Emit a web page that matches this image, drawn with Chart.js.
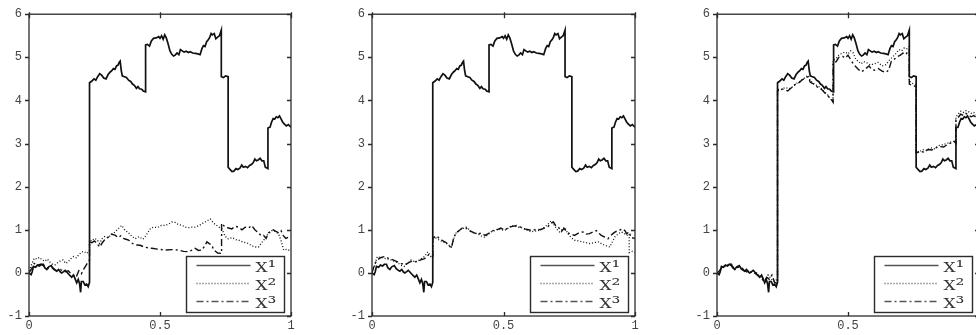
<!DOCTYPE html>
<html>
<head>
<meta charset="utf-8">
<script src="https://cdn.jsdelivr.net/npm/chart.js@4/dist/chart.umd.min.js"></script>
<style>
  html, body { margin: 0; padding: 0; background: #fff; overflow: hidden; width: 976px; height: 335px; position: relative; }
  .panel { position: absolute; top: 0; width: 300px; height: 335px; }
  canvas { display: block; }
</style>
</head>
<body>
<div class="panel" style="left:0px"><canvas id="c1" width="300" height="335"></canvas></div>
<div class="panel" style="left:343px"><canvas id="c2" width="300" height="335"></canvas></div>
<div class="panel" style="left:688px"><canvas id="c3" width="300" height="335"></canvas></div>
<script>
// Series names and axis ticks
const seriesLabels = ['X\u00b9', 'X\u00b2', 'X\u00b3'];
const xTicks = [0, 0.5, 1];
const yTicks = [-1, 0, 1, 2, 3, 4, 5, 6];

// X¹ path [t, value] – the same in all three panels (repeated t = jump)
const pathX1 = [
  [0,0],[0.008,-0.04],[0.012,0.02],[0.017,0.15],[0.025,0.13],[0.032,0.18],[0.04,0.16],[0.047,0.2],
  [0.055,0.2],[0.06,0.12],[0.068,0.08],[0.075,0.14],[0.085,0.17],[0.092,0.1],[0.1,0.06],[0.106,0.04],
  [0.113,0.08],[0.12,0.02],[0.125,0.0],[0.132,0.03],[0.138,0.06],[0.144,0.02],[0.15,-0.02],[0.156,-0.06],
  [0.163,-0.1],[0.17,-0.05],[0.176,-0.14],[0.182,-0.23],[0.188,-0.15],[0.193,-0.25],[0.197,-0.45],[0.2,-0.2],
  [0.207,-0.2],[0.213,-0.28],[0.22,-0.26],[0.226,-0.32],[0.231,-0.22],
  [0.231,4.41],[0.24,4.45],[0.248,4.5],[0.255,4.47],[0.262,4.55],[0.27,4.62],[0.278,4.58],[0.285,4.52],
  [0.294,4.5],[0.302,4.6],[0.31,4.66],[0.316,4.69],[0.322,4.74],[0.328,4.72],[0.334,4.8],[0.34,4.82],
  [0.344,4.88],[0.348,4.91],[0.352,4.7],[0.356,4.57],[0.364,4.55],[0.372,4.53],[0.38,4.47],[0.388,4.44],
  [0.395,4.38],[0.402,4.35],[0.41,4.28],[0.416,4.32],[0.422,4.27],[0.43,4.26],[0.436,4.22],[0.445,4.2],
  [0.445,5.29],[0.452,5.3],[0.46,5.26],[0.467,5.38],[0.475,5.44],[0.485,5.45],[0.495,5.48],[0.5,5.44],
  [0.506,5.5],[0.512,5.42],[0.518,5.52],[0.524,5.45],[0.53,5.33],[0.538,5.15],[0.545,5.07],[0.552,5.03],
  [0.558,5.05],[0.565,5.1],[0.572,5.06],[0.578,5.18],[0.585,5.15],[0.592,5.12],[0.6,5.14],[0.608,5.11],
  [0.615,5.13],[0.625,5.1],[0.635,5.09],[0.645,5.08],[0.653,5.06],[0.66,5.2],[0.666,5.27],[0.672,5.25],
  [0.678,5.36],[0.685,5.41],[0.69,5.47],[0.695,5.55],[0.7,5.52],[0.707,5.55],[0.713,5.43],[0.72,5.47],
  [0.727,5.5],[0.734,5.63],
  [0.734,4.55],[0.742,4.53],[0.75,4.57],[0.76,4.55],
  [0.76,2.45],[0.767,2.4],[0.775,2.35],[0.782,2.36],[0.79,2.42],[0.797,2.4],[0.805,2.43],[0.812,2.5],
  [0.818,2.45],[0.826,2.47],[0.834,2.44],[0.842,2.49],[0.85,2.52],[0.856,2.56],[0.862,2.64],[0.868,2.6],
  [0.875,2.62],[0.882,2.66],[0.889,2.6],[0.896,2.6],[0.902,2.45],[0.912,2.42],
  [0.912,3.36],[0.92,3.38],[0.926,3.5],[0.932,3.58],[0.938,3.57],[0.944,3.62],[0.95,3.6],[0.956,3.64],
  [0.962,3.57],[0.968,3.5],[0.975,3.45],[0.982,3.41],[0.99,3.44],[1.0,3.38]
];

// Panel 1: X² and X³
const p1X2 = [
  [0,0.05],[0.01,0.2],[0.02,0.34],[0.03,0.32],[0.04,0.36],[0.05,0.3],[0.061,0.27],[0.07,0.32],[0.08,0.25],
  [0.09,0.2],[0.1,0.19],[0.11,0.24],[0.12,0.28],[0.13,0.3],[0.14,0.22],[0.15,0.26],[0.16,0.33],[0.17,0.38],
  [0.18,0.35],[0.19,0.42],[0.2,0.48],[0.21,0.5],[0.22,0.45],[0.231,0.52],
  [0.231,0.76],[0.24,0.74],[0.25,0.8],[0.26,0.77],[0.27,0.68],[0.278,0.79],[0.29,0.85],[0.3,0.82],
  [0.316,0.88],[0.33,0.96],[0.345,1.05],[0.354,1.1],[0.365,1.0],[0.38,0.93],[0.392,0.85],[0.405,0.79],
  [0.42,0.84],[0.435,0.78],[0.445,0.85],[0.455,0.95],[0.465,1.04],[0.475,1.06],[0.49,1.05],[0.505,1.1],
  [0.52,1.1],[0.535,1.14],[0.545,1.18],[0.558,1.17],[0.57,1.12],[0.585,1.1],[0.596,1.06],[0.61,1.05],
  [0.622,1.06],[0.634,1.06],[0.65,1.1],[0.665,1.16],[0.678,1.2],[0.692,1.25],[0.705,1.15],[0.717,1.1],
  [0.728,1.05],[0.736,1.02],[0.745,0.9],[0.755,0.8],[0.762,0.79],[0.775,0.82],[0.79,0.77],[0.8,0.76],
  [0.815,0.72],[0.828,0.7],[0.838,0.68],[0.85,0.63],[0.865,0.6],[0.876,0.6],[0.888,0.7],[0.9,0.79],
  [0.912,0.9],[0.927,0.98],[0.94,0.96],[0.953,0.9],[0.962,0.75],[0.972,0.53],[0.985,0.55],[1.0,0.5]
];
const p1X3 = [
  [0,0],[0.01,0.1],[0.02,0.22],[0.03,0.18],[0.045,0.2],[0.06,0.15],[0.075,0.1],[0.09,0.12],[0.105,0.05],
  [0.12,0.08],[0.135,0.02],[0.15,0.05],[0.165,-0.05],[0.18,-0.1],[0.19,0.05],[0.2,-0.02],[0.21,0.1],
  [0.22,0.2],[0.231,0.3],
  [0.231,0.72],[0.24,0.7],[0.25,0.74],[0.26,0.68],[0.27,0.6],[0.28,0.7],[0.29,0.78],[0.303,0.83],
  [0.315,0.9],[0.33,0.87],[0.34,0.82],[0.35,0.86],[0.36,0.8],[0.37,0.78],[0.38,0.76],[0.39,0.7],
  [0.405,0.65],[0.424,0.64],[0.44,0.6],[0.455,0.58],[0.469,0.57],[0.49,0.55],[0.52,0.53],[0.545,0.54],
  [0.571,0.53],[0.59,0.5],[0.609,0.49],[0.62,0.52],[0.634,0.57],[0.647,0.52],[0.66,0.53],[0.67,0.62],
  [0.679,0.72],[0.688,0.68],[0.698,0.64],[0.705,0.53],[0.712,0.5],[0.72,0.46],[0.735,0.45],
  [0.735,1.15],[0.749,1.06],[0.762,1.04],[0.774,1.02],[0.787,1.08],[0.8,1.06],[0.813,1.0],[0.825,1.06],
  [0.838,1.04],[0.85,1.1],[0.862,1.0],[0.876,0.93],[0.886,0.86],[0.895,0.87],[0.905,0.8],[0.914,0.93],
  [0.924,0.96],[0.933,1.0],[0.943,0.96],[0.953,0.93],[0.962,0.98],[0.97,0.87],[0.98,0.8],[0.99,0.83],[1.0,0.85]
];

// Panel 2: X² and X³
const p2X2 = [
  [0,0.02],[0.009,0.15],[0.02,0.38],[0.03,0.36],[0.047,0.34],[0.06,0.32],[0.073,0.3],[0.085,0.27],
  [0.098,0.23],[0.11,0.18],[0.123,0.15],[0.135,0.22],[0.149,0.3],[0.16,0.26],[0.174,0.27],[0.187,0.33],
  [0.2,0.38],[0.212,0.49],[0.224,0.38],[0.231,0.42],
  [0.231,0.83],[0.237,0.83],[0.256,0.76],[0.27,0.72],[0.283,0.68],[0.302,0.6],[0.31,0.75],[0.315,0.91],
  [0.328,0.95],[0.34,1.02],[0.358,1.06],[0.37,1.0],[0.377,0.95],[0.39,0.92],[0.402,0.91],[0.415,0.86],
  [0.428,0.83],[0.44,0.88],[0.453,0.95],[0.466,0.98],[0.479,1.02],[0.492,1.0],[0.504,0.98],[0.518,1.04],
  [0.531,1.1],[0.544,1.08],[0.556,1.06],[0.568,1.05],[0.58,1.02],[0.594,0.98],[0.606,0.95],[0.618,0.97],
  [0.631,0.98],[0.644,1.02],[0.656,1.06],[0.668,1.12],[0.681,1.21],[0.694,1.1],[0.705,1.0],[0.713,0.95],
  [0.722,1.0],[0.732,1.06],[0.745,0.91],[0.757,0.82],[0.77,0.76],[0.785,0.74],[0.8,0.72],[0.815,0.7],
  [0.827,0.68],[0.843,0.7],[0.86,0.72],[0.872,0.68],[0.885,0.64],[0.895,0.62],[0.904,0.6],[0.914,0.72],
  [0.923,0.83],[0.935,0.9],[0.948,0.95],[0.958,0.92],[0.968,0.87],[0.978,0.9],
  [0.978,0.47],[0.99,0.5],[1.0,0.48]
];
const p2X3 = [
  [0,0.0],[0.01,0.2],[0.02,0.3],[0.035,0.36],[0.05,0.38],[0.065,0.33],[0.08,0.3],[0.095,0.26],[0.11,0.22],
  [0.125,0.19],[0.14,0.24],[0.155,0.28],[0.17,0.25],[0.185,0.3],[0.2,0.33],[0.215,0.42],[0.231,0.38],
  [0.231,0.8],[0.245,0.86],[0.256,0.8],[0.27,0.74],[0.283,0.7],[0.295,0.62],[0.302,0.58],[0.31,0.8],
  [0.32,0.93],[0.335,1.0],[0.345,1.05],[0.358,1.04],[0.37,0.98],[0.385,0.94],[0.4,0.9],[0.415,0.92],
  [0.43,0.87],[0.445,0.92],[0.46,0.98],[0.475,1.0],[0.49,1.04],[0.505,0.99],[0.52,1.06],[0.535,1.08],
  [0.55,1.1],[0.565,1.06],[0.58,1.02],[0.595,1.0],[0.61,0.98],[0.625,1.02],[0.64,1.0],[0.655,1.04],
  [0.67,1.08],[0.68,1.15],[0.69,1.18],[0.7,1.08],[0.71,1.05],[0.72,0.96],[0.73,1.03],[0.745,0.93],
  [0.757,0.9],[0.77,0.87],[0.785,0.92],[0.802,0.95],[0.815,0.9],[0.827,0.91],[0.84,0.95],[0.853,0.98],
  [0.862,0.92],[0.872,0.87],[0.885,0.83],[0.897,0.79],[0.905,0.85],[0.916,0.91],[0.925,0.95],[0.935,0.98],
  [0.945,1.0],[0.955,1.02],[0.962,0.98],[0.968,0.91],[0.978,0.95],[0.985,0.82],[1.0,0.8]
];

// Panel 3: X² and X³
const p3X2 = [
  [0,0],[0.008,-0.02],[0.017,0.12],[0.03,0.16],[0.045,0.19],[0.055,0.17],[0.068,0.1],[0.085,0.15],
  [0.1,0.08],[0.115,0.05],[0.13,0.02],[0.145,0.04],[0.16,-0.06],[0.175,-0.12],[0.185,-0.18],[0.195,-0.05],
  [0.205,-0.12],[0.215,-0.2],[0.225,-0.18],[0.231,-0.1],
  [0.231,4.26],[0.245,4.25],[0.26,4.3],[0.275,4.27],[0.29,4.32],[0.305,4.4],[0.318,4.45],[0.33,4.5],
  [0.34,4.55],[0.348,4.58],[0.355,4.48],[0.365,4.4],[0.38,4.35],[0.395,4.3],[0.41,4.2],[0.42,4.15],
  [0.43,4.05],[0.443,3.98],
  [0.443,4.93],[0.455,4.97],[0.465,5.05],[0.478,5.1],[0.49,5.12],[0.5,5.08],[0.51,5.15],[0.52,5.1],
  [0.53,4.95],[0.54,4.9],[0.55,4.85],[0.56,4.9],[0.572,4.87],[0.585,4.82],[0.6,4.85],[0.615,4.88],
  [0.63,4.8],[0.645,4.83],[0.66,4.95],[0.672,5.02],[0.685,5.1],[0.695,5.18],[0.705,5.15],[0.715,5.22],
  [0.725,5.2],[0.734,5.25],
  [0.734,4.45],[0.745,4.4],[0.76,4.35],
  [0.76,2.82],[0.772,2.8],[0.785,2.86],[0.8,2.84],[0.815,2.9],[0.83,2.88],[0.845,2.95],[0.86,2.97],
  [0.875,3.0],[0.89,3.03],[0.905,3.05],[0.912,3.02],
  [0.912,3.62],[0.92,3.68],[0.93,3.75],[0.94,3.72],[0.95,3.76],[0.96,3.74],[0.97,3.7],[0.98,3.72],
  [0.99,3.66],[1.0,3.68]
];
const p3X3 = [
  [0,0],[0.01,0.05],[0.02,0.15],[0.035,0.17],[0.05,0.2],[0.06,0.13],[0.075,0.12],[0.09,0.14],[0.105,0.05],
  [0.12,0.0],[0.135,0.03],[0.15,-0.03],[0.165,-0.1],[0.18,-0.2],[0.19,-0.1],[0.2,-0.15],[0.21,-0.05],
  [0.22,-0.22],[0.231,-0.25],
  [0.231,4.22],[0.245,4.27],[0.258,4.25],[0.27,4.22],[0.285,4.3],[0.3,4.38],[0.315,4.42],[0.325,4.48],
  [0.338,4.52],[0.348,4.55],[0.356,4.42],[0.37,4.38],[0.385,4.3],[0.4,4.25],[0.415,4.15],[0.428,4.08],
  [0.436,4.03],[0.443,3.96],
  [0.443,4.88],[0.455,4.9],[0.465,5.0],[0.48,5.02],[0.49,4.98],[0.5,5.05],[0.51,4.95],[0.52,4.85],
  [0.53,4.78],[0.54,4.72],[0.55,4.66],[0.56,4.7],[0.57,4.75],[0.58,4.8],[0.59,4.72],[0.6,4.7],
  [0.615,4.74],[0.63,4.68],[0.645,4.65],[0.655,4.7],[0.665,4.9],[0.675,4.95],[0.69,5.02],[0.7,5.05],
  [0.71,5.1],[0.72,5.06],[0.734,5.18],
  [0.734,4.38],[0.745,4.35],[0.76,4.32],
  [0.76,2.78],[0.775,2.82],[0.79,2.8],[0.805,2.86],[0.82,2.85],[0.835,2.9],[0.85,2.93],[0.865,2.92],
  [0.88,2.98],[0.895,3.02],[0.905,3.05],[0.912,3.0],
  [0.912,3.55],[0.92,3.6],[0.93,3.68],[0.94,3.65],[0.95,3.7],[0.96,3.66],[0.97,3.62],[0.98,3.65],
  [0.99,3.6],[1.0,3.62]
];

const INK = '#111';
const FRAME = '#2b2b2b';

// Box frame with tick marks
const framePlugin = {
  id: 'frame',
  afterDatasetsDraw(chart) {
    const { ctx, chartArea: a, scales: { x, y } } = chart;
    const L = 4;
    ctx.save();
    ctx.strokeStyle = FRAME;
    ctx.lineWidth = 1.3;
    ctx.strokeRect(a.left, a.top, a.right - a.left, a.bottom - a.top);
    ctx.beginPath();
    yTicks.forEach(v => {
      const py = Math.round(y.getPixelForValue(v)) + 0.5;
      ctx.moveTo(a.left - L, py); ctx.lineTo(a.left, py);
      ctx.moveTo(a.right - L, py); ctx.lineTo(a.right, py);
    });
    xTicks.forEach(v => {
      const px = Math.round(x.getPixelForValue(v)) + 0.5;
      ctx.moveTo(px, a.bottom); ctx.lineTo(px, a.bottom - L);
      ctx.moveTo(px, a.top - 2); ctx.lineTo(px, a.top + L);
    });
    ctx.stroke();
    ctx.restore();
  }
};

// Boxed legend in the lower right corner of the plot
const boxLegend = {
  id: 'boxLegend',
  afterDraw(chart) {
    const { ctx, chartArea: a } = chart;
    const w = 98, h = 56;
    const bx = Math.round(a.right - 7.5 - w) + 0.5;
    const by = Math.round(a.bottom - 4.5 - h) + 0.5;
    ctx.save();
    ctx.fillStyle = '#fff';
    ctx.fillRect(bx, by, w, h);
    ctx.strokeStyle = FRAME;
    ctx.lineWidth = 1.4;
    ctx.strokeRect(bx, by, w, h);
    chart.data.datasets.forEach((ds, i) => {
      const ly = by + 9 + i * 18;
      ctx.beginPath();
      ctx.setLineDash(ds.borderDash || []);
      ctx.lineWidth = Math.min(ds.borderWidth, 1.3);
      ctx.strokeStyle = '#555';
      ctx.moveTo(bx + 10, ly);
      ctx.lineTo(bx + 64, ly);
      ctx.stroke();
      ctx.setLineDash([]);
      // base letter, then the raised index in a larger size
      const base = ds.label.slice(0, 1), sup = ds.label.slice(1);
      ctx.save();
      ctx.translate(bx + 69, ly + 6);
      ctx.scale(1.3, 1);
      ctx.fillStyle = '#333';
      ctx.textBaseline = 'alphabetic';
      ctx.font = '13px "DejaVu Serif"';
      ctx.fillText(base, 0, 0);
      const bw = ctx.measureText(base).width;
      ctx.font = '17px "DejaVu Serif"';
      ctx.fillText(sup, bw, 1);
      ctx.restore();
    });
    ctx.restore();
  }
};

function makePanel(id, x2, x3, padRight) {
  const toXY = arr => arr.map(([t, v]) => ({ x: t, y: v }));
  const tickFont = { family: '"Liberation Mono", "DejaVu Sans Mono", monospace', size: 12 };
  return new Chart(document.getElementById(id), {
    type: 'line',
    data: {
      datasets: [
        { label: seriesLabels[0], data: toXY(pathX1), borderColor: INK, borderWidth: 1.7, borderDash: [] },
        { label: seriesLabels[1], data: toXY(x2), borderColor: INK, borderWidth: 1.3, borderDash: [1, 2] },
        { label: seriesLabels[2], data: toXY(x3), borderColor: INK, borderWidth: 1.4, borderDash: [7, 3, 2, 3] }
      ]
    },
    options: {
      responsive: false,
      animation: false,
      devicePixelRatio: 1,
      layout: { padding: { top: 7, right: padRight, bottom: 0, left: 0 } },
      elements: { point: { radius: 0 }, line: { tension: 0, borderCapStyle: 'butt' } },
      plugins: { legend: { display: false }, tooltip: { enabled: false } },
      scales: {
        x: {
          type: 'linear', min: 0, max: 1,
          grid: { display: false, drawTicks: false },
          border: { display: false },
          afterBuildTicks: s => { s.ticks = xTicks.map(v => ({ value: v })); },
          afterFit: s => { s.height = 19; },
          ticks: { color: '#444', font: tickFont, padding: 3, maxRotation: 0, autoSkip: false,
                   callback: v => String(v) }
        },
        y: {
          type: 'linear', min: -1, max: 6,
          grid: { display: false, drawTicks: false },
          border: { display: false },
          afterBuildTicks: s => { s.ticks = yTicks.map(v => ({ value: v })); },
          afterFit: s => { s.width = 29; },
          ticks: { color: '#444', font: tickFont, padding: 7, autoSkip: false,
                   callback: v => String(v) }
        }
      }
    },
    plugins: [framePlugin, boxLegend]
  });
}

makePanel('c1', p1X2, p1X3, 9);
makePanel('c2', p2X2, p2X3, 8);
makePanel('c3', p3X2, p3X3, 9);
</script>
</body>
</html>
